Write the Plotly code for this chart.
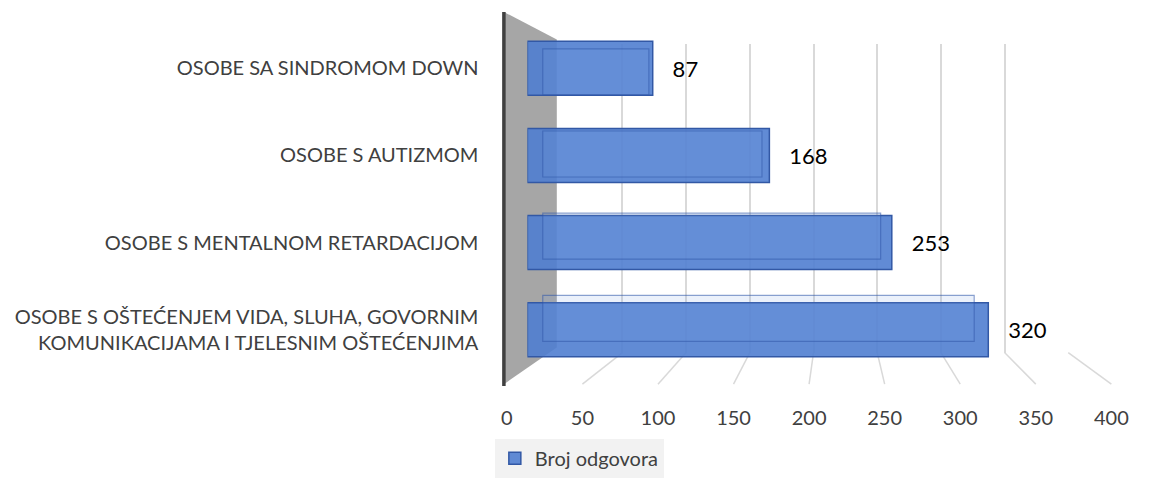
import plotly.graph_objects as go

# ---- data ----
categories = [
    "OSOBE SA SINDROMOM DOWN",
    "OSOBE S AUTIZMOM",
    "OSOBE S MENTALNOM RETARDACIJOM",
    "OSOBE S OŠTEĆENJEM VIDA, SLUHA, GOVORNIM<br>KOMUNIKACIJAMA I TJELESNIM OŠTEĆENJIMA",
]
values = [87, 168, 253, 320]
series_name = "Broj odgovora"
tick_values = [0, 50, 100, 150, 200, 250, 300, 350, 400]

# The page body keeps its default 8px margin; the figure is kept a little
# smaller than the window so that no scrollbar can appear.
OX, OY = 8, 8
W, H = 1138, 470
FONT = "Lato"

def px(x):
    return (x - OX) / W

def py(y):
    return 1 - (y - OY) / H

# window-pixel geometry of the pseudo-3D frame
FRONT_X0, FRONT_X1 = 511, 1128      # floor front edge (tick labels)
BACK_X0, BACK_X1 = 564, 1084        # back wall gridlines
BAR_X0, BAR_X1 = 532, 1120          # bar front faces (0 -> 400)
BBAR_X0, BBAR_X1 = 532, 1102        # bar back faces (0 -> 400)
BACK_INSET = 11                     # back face starts slightly inside
FLOOR_FRONT_Y, FLOOR_BACK_Y, BACK_TOP_Y = 389, 357, 44
BAR_TOP_Y, BAR_BOT_Y = 25, 378
BBAR_TOP_Y, BBAR_BOT_Y = 31, 364

fig = go.Figure()

# back-wall gridlines (helper axis, drawn first so it stays behind bars)
fig.add_trace(go.Scatter(x=[0, 400], y=[0, 1], xaxis="x", yaxis="y",
                         mode="markers", marker=dict(opacity=0),
                         showlegend=False, hoverinfo="skip"))

fig.add_trace(go.Bar(
    y=categories, x=values, orientation="h",
    name=series_name,
    xaxis="x2", yaxis="y2",
    width=0.62,
    marker=dict(color="rgba(80,126,208,0.9)",
                line=dict(color="rgb(50,88,165)", width=1.5)),
    texttemplate="\u00a0\u00a0\u00a0%{x}",
    textposition="outside",
    textfont=dict(family=FONT, size=22, color="black"),
    cliponaxis=False,
    showlegend=True,
    hoverinfo="x+y",
))

# back faces of the 3D bars (outline only)
fig.add_trace(go.Bar(
    y=categories, x=[v - BACK_INSET for v in values], base=BACK_INSET,
    orientation="h",
    xaxis="x4", yaxis="y4",
    width=0.56,
    marker=dict(color="rgba(120,160,225,0.15)",
                line=dict(color="rgba(50,88,170,0.55)", width=1.2)),
    showlegend=False, hoverinfo="skip",
))

# front axis with tick labels (helper)
fig.add_trace(go.Scatter(x=[0, 400], y=[0, 1], xaxis="x3", yaxis="y3",
                         mode="markers", marker=dict(opacity=0),
                         showlegend=False, hoverinfo="skip"))

shapes = []
# side wall
shapes.append(dict(type="path", xref="paper", yref="paper", layer="below",
                   path=f"M {px(508)} {py(12)} L {px(BACK_X0-2)} {py(BACK_TOP_Y-4)} "
                        f"L {px(BACK_X0-2)} {py(FLOOR_BACK_Y-5)} L {px(508)} {py(FLOOR_FRONT_Y)} Z",
                   fillcolor="rgb(166,166,166)", line=dict(width=0)))
shapes.append(dict(type="line", xref="paper", yref="paper",
                   x0=px(508), x1=px(508), y0=py(12), y1=py(391),
                   line=dict(color="rgb(64,64,64)", width=3.5)))
# floor diagonal lines
for t in tick_values[1:]:
    xb = BACK_X0 + (BACK_X1 - BACK_X0) * t / 400
    xf = FRONT_X0 + (FRONT_X1 - FRONT_X0) * t / 400
    shapes.append(dict(type="line", xref="paper", yref="paper", layer="below",
                       x0=px(xb), y0=py(FLOOR_BACK_Y), x1=px(xf), y1=py(FLOOR_FRONT_Y),
                       line=dict(color="rgb(217,217,217)", width=1.5)))

fig.update_layout(
    width=W, height=H, autosize=False,
    margin=dict(l=0, r=0, t=0, b=0),
    paper_bgcolor="white", plot_bgcolor="rgba(0,0,0,0)",
    font=dict(family=FONT, color="rgb(64,64,64)"),
    shapes=shapes,
    xaxis=dict(domain=[px(BACK_X0), px(BACK_X1)], range=[0, 400],
               tickvals=tick_values, showticklabels=False, ticks="",
               showgrid=True, gridcolor="rgb(217,217,217)", gridwidth=1.5,
               zeroline=False, showline=False, anchor="y"),
    yaxis=dict(domain=[py(FLOOR_BACK_Y), py(BACK_TOP_Y)], range=[0, 1],
               visible=False, anchor="x"),
    xaxis2=dict(domain=[px(BAR_X0), px(BAR_X1)], range=[0, 400],
                visible=False, anchor="y2"),
    yaxis2=dict(domain=[py(BAR_BOT_Y), py(BAR_TOP_Y)],
                range=[3.5, -0.5], anchor="x2",
                ticks="outside", ticklen=44, tickcolor="rgba(0,0,0,0)",
                tickfont=dict(size=20, color="rgb(64,64,64)"),
                showgrid=False, zeroline=False, showline=False),
    xaxis3=dict(domain=[px(FRONT_X0), px(FRONT_X1)], range=[0, 400],
                tickvals=tick_values, showgrid=False, zeroline=False,
                showline=False, ticks="outside", ticklen=16,
                tickcolor="rgba(0,0,0,0)",
                tickfont=dict(size=20, color="rgb(64,64,64)"),
                anchor="y3"),
    yaxis3=dict(domain=[py(FLOOR_FRONT_Y), py(FLOOR_FRONT_Y) + 0.01], visible=False,
                anchor="x3"),
    xaxis4=dict(domain=[px(BBAR_X0), px(BBAR_X1)], range=[0, 400],
                visible=False, anchor="y4"),
    yaxis4=dict(domain=[py(BBAR_BOT_Y), py(BBAR_TOP_Y)],
                range=[3.5, -0.5], visible=False, anchor="x4"),
    legend=dict(x=px(585), y=py(464), xanchor="center", yanchor="middle",
                bgcolor="rgb(242,242,242)", orientation="h",
                font=dict(size=20, color="rgb(64,64,64)")),
)

fig.write_html("out.html", config={"displayModeBar": False})
